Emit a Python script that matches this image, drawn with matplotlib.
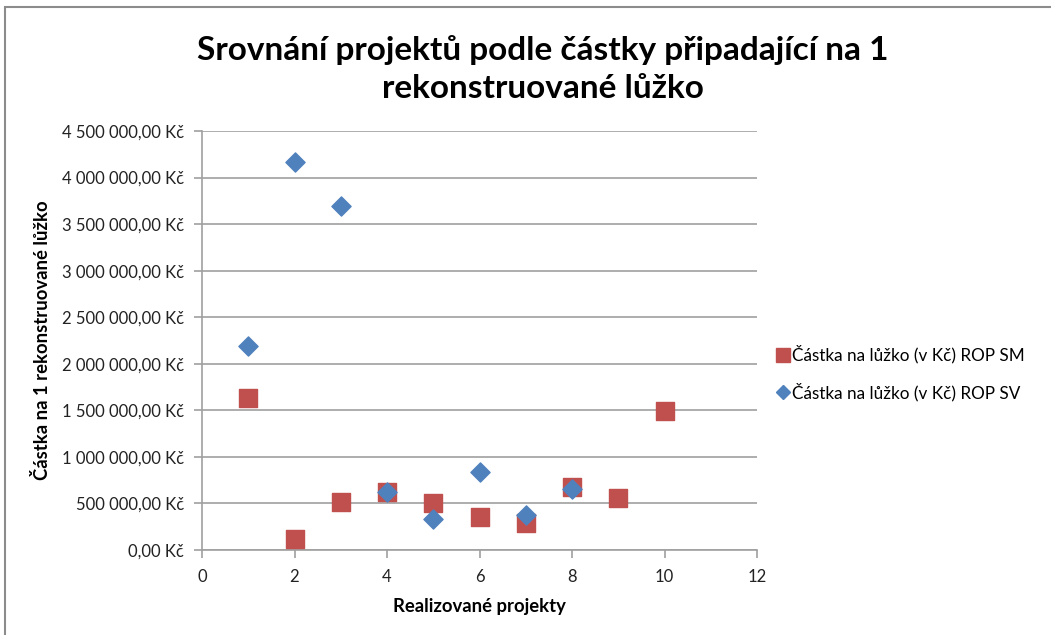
import matplotlib.pyplot as plt
from matplotlib.ticker import FuncFormatter, MultipleLocator
from matplotlib.lines import Line2D

plt.rcParams['font.family'] = ['Lato', 'DejaVu Sans']

# data
projects_sm = [1, 2, 3, 4, 5, 6, 7, 8, 9, 10]
amount_sm = [1634000, 115000, 518000, 620000, 500000, 354000, 286000, 679000, 561000, 1488000]
projects_sv = [1, 2, 3, 4, 5, 6, 7, 8]
amount_sv = [2189000, 4165000, 3693000, 625000, 329000, 834000, 375000, 655000]

label_sm = 'Částka na lůžko (v Kč) ROP SM'
label_sv = 'Částka na lůžko (v Kč) ROP SV'
title = 'Srovnání projektů podle částky připadající na 1\nrekonstruované lůžko'

red = '#C0504D'
blue = '#4F81BD'
grid_col = '#A0A0A0'


def kc(v, pos):
    s = f"{v:,.2f}".replace(',', ' ').replace('.', ',')
    return s + ' Kč'


fig = plt.figure(figsize=(10.51, 6.35), dpi=100)
ax = fig.add_axes([202 / 1051, 85 / 635, 555 / 1051, 419 / 635])

ax.scatter(projects_sm, amount_sm, marker='s', s=150, color=red, label=label_sm, zorder=3)
ax.scatter(projects_sv, amount_sv, marker='D', s=95, color=blue, label=label_sv, zorder=4)

ax.set_xlim(0, 12)
ax.set_ylim(0, 4500000)
ax.xaxis.set_major_locator(MultipleLocator(2))
ax.yaxis.set_major_locator(MultipleLocator(500000))
ax.yaxis.set_major_formatter(FuncFormatter(kc))

ax.grid(axis='y', color=grid_col, linewidth=1.2)
ax.set_axisbelow(True)
for side in ['top', 'right']:
    ax.spines[side].set_visible(False)
for side in ['left', 'bottom']:
    ax.spines[side].set_color(grid_col)
    ax.spines[side].set_linewidth(1.2)
ax.tick_params(axis='both', direction='out', length=6, color=grid_col, width=1.2,
               labelsize=12, labelcolor='#222222')
ax.tick_params(axis='y', pad=7)
ax.tick_params(axis='x', pad=8)

ax.set_xlabel('Realizované projekty', fontsize=13.3, fontweight='bold', labelpad=9)
ax.set_ylabel('Částka na 1 rekonstruované lůžko', fontsize=13.3, fontweight='bold', labelpad=8)

fig.text(543 / 1051, 1 - 69 / 635, title, ha='center', va='center', fontsize=24,
         fontweight='bold', linespacing=1.38)

handles = [
    Line2D([], [], marker='s', linestyle='none', color=red, markersize=10),
    Line2D([], [], marker='D', linestyle='none', color=blue, markersize=7),
]
fig.legend(handles, [label_sm, label_sv], loc='center left',
           bbox_to_anchor=(759 / 1051, 1 - 373 / 635), frameon=False,
           fontsize=12.3, handletextpad=0.05, handlelength=1.0, labelspacing=1.1)

# chart frame
fig.patches.append(plt.Rectangle((5 / 1051, -0.1), 1.2, 1.1 - 7 / 635,
                                 transform=fig.transFigure, fill=False,
                                 edgecolor='#8C8C8C', linewidth=1.5))

fig.savefig('out.png', dpi=100)
